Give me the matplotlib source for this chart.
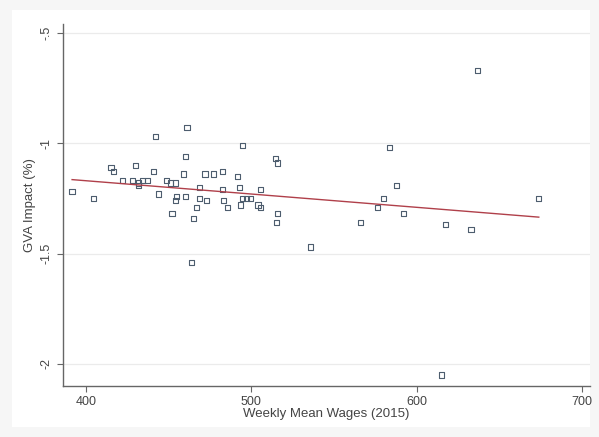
import numpy as np
import matplotlib
matplotlib.use("Agg")
import matplotlib.pyplot as plt
from matplotlib.patches import Rectangle

plt.rcParams['font.family'] = ['Liberation Sans', 'DejaVu Sans']

# Data
wages = [391.5, 404.5, 415.0, 416.5, 429.7, 421.8, 441.8, 461.0, 460.0, 440.6,
         459.0, 427.9, 431.5, 433.9, 437.0, 448.5, 451.0, 454.0, 431.5, 443.6,
         454.5, 460.0, 454.0, 467.0, 452.0, 465.0, 494.5, 514.5, 515.8, 472.0,
         477.0, 482.4, 491.5, 468.5, 482.4, 492.7, 505.5, 468.5, 473.0, 483.0,
         485.5, 494.5, 497.0, 499.4, 493.3, 504.0, 505.5, 516.0, 515.0, 637.0,
         583.6, 588.0, 580.0, 576.4, 592.0, 566.0, 617.6, 633.0, 674.0, 535.8,
         464.0, 615.0]
impact = [-1.22, -1.25, -1.11, -1.13, -1.10, -1.17, -0.97, -0.93, -1.06, -1.13,
          -1.14, -1.17, -1.18, -1.17, -1.17, -1.17, -1.18, -1.18, -1.19, -1.23,
          -1.24, -1.24, -1.26, -1.29, -1.32, -1.34, -1.01, -1.07, -1.09, -1.14,
          -1.14, -1.13, -1.15, -1.20, -1.21, -1.20, -1.21, -1.25, -1.26, -1.26,
          -1.29, -1.25, -1.25, -1.25, -1.28, -1.28, -1.29, -1.32, -1.36, -0.67,
          -1.02, -1.19, -1.25, -1.29, -1.32, -1.36, -1.37, -1.39, -1.25, -1.47,
          -1.54, -2.05]
# fitted line endpoints
fit_x = [391.5, 674.0]
fit_y = [-1.165, -1.335]

xticks = [400, 500, 600, 700]
yticks = [-0.5, -1.0, -1.5, -2.0]
yticklabels = ["-.5", "-1", "-1.5", "-2"]

W, H = 599, 437
fig = plt.figure(figsize=(W / 100, H / 100), dpi=100, facecolor="#f6f6f6")
bg = Rectangle((12 / W, 10 / H), (590 - 12) / W, (427 - 10) / H,
               transform=fig.transFigure, facecolor="white",
               edgecolor="none", zorder=-5)
fig.patches.append(bg)

ax = fig.add_axes([63 / W, (H - 386) / H, (590 - 63) / W, (386 - 24) / H])
ax.set_zorder(2)
ax.set_facecolor("white")
ax.set_xlim(386, 705)
ax.set_ylim(-2.1, -0.46)

ax.scatter(wages, impact, marker="s", s=14, facecolors="none",
           edgecolors="#4d5d6e", linewidths=0.8, zorder=3)
ax.plot(fit_x, fit_y, color="#b0404a", linewidth=1.0, zorder=4)

ax.set_xticks(xticks)
ax.set_xticklabels([str(t) for t in xticks])
ax.set_yticks(yticks)
ax.set_yticklabels(yticklabels, rotation=90, va="center")
ax.grid(axis="y", color="#ebebeb", linewidth=0.9, zorder=0)
ax.set_axisbelow(True)

for s in ["top", "right"]:
    ax.spines[s].set_visible(False)
for s in ["left", "bottom"]:
    ax.spines[s].set_color("#666666")
    ax.spines[s].set_linewidth(1.0)

ax.tick_params(axis="both", colors="#666666", labelcolor="#444444",
               labelsize=9, length=4, width=0.8)
ax.set_xlabel("Weekly Mean Wages (2015)", fontsize=9.5, color="#444444", labelpad=0)
ax.set_ylabel("GVA Impact (%)", fontsize=9.5, color="#444444", labelpad=3)

fig.savefig("out.png", dpi=100, facecolor=fig.get_facecolor())
